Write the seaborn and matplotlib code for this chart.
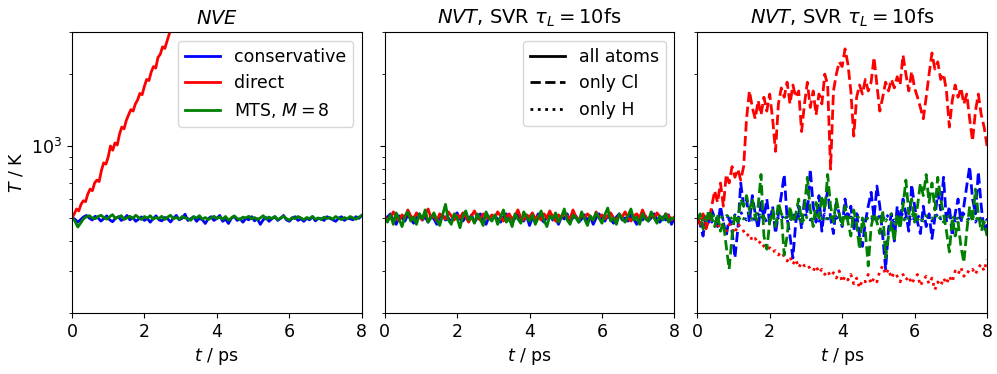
import numpy as np
import pandas as pd
import matplotlib
matplotlib.use("Agg")
import matplotlib.pyplot as plt
import seaborn as sns
from matplotlib.ticker import NullFormatter

plt.rcParams.update({
    "font.size": 12.5,
    "axes.titlesize": 14,
    "axes.labelsize": 12.5,
    "xtick.labelsize": 12.5,
    "ytick.labelsize": 12.5,
    "legend.fontsize": 12.5,
})

# ---------------- data ----------------
time_step = 0.0625  # ps, spacing of red "direct" run samples

# Panel 1 (NVE)
nve_conservative = [502, 494, 480, 492, 505, 512, 499, 490, 508, 500,
      485, 497, 510, 491, 482, 498, 506, 488, 496, 512,
      491, 502, 484, 494, 505, 488, 498, 480, 496, 510,
      491, 486, 502, 496, 481, 498, 512, 491, 498, 518,
      488, 496, 506, 484, 498, 491, 474, 496, 506, 488,
      498, 512, 484, 494, 474, 498, 508, 488, 496, 480,
      498, 491, 506, 486, 496, 470, 491, 502, 484, 496,
      506, 488, 498, 512, 491, 484, 498, 506, 488, 496,
      484, 498, 491, 506, 486, 498, 496, 488, 506, 498,
      491, 484, 498, 506, 488, 498, 496, 491, 506, 498, 512]
nve_direct = [500, 520, 545, 535, 570, 590, 585, 630, 660, 650,
      700, 720, 710, 790, 850, 840, 900, 1000, 960, 1030,
      1010, 1120, 1200, 1180, 1280, 1350, 1420, 1400, 1500, 1560,
      1660, 1640, 1780, 1900, 1880, 2040, 2150, 2120, 2350, 2420,
      2600, 2560, 2750, 2950, 3100, 3300]
nve_mts = [500, 486, 458, 476, 496, 506, 511, 500, 496, 507,
      513, 502, 494, 506, 516, 497, 504, 511, 493, 500,
      508, 497, 513, 502, 492, 507, 499, 511, 494, 502,
      497, 508, 492, 504, 513, 496, 502, 494, 507, 500,
      497, 489, 506, 500, 511, 494, 502, 492, 500, 508,
      497, 504, 494, 507, 489, 500, 510, 497, 492, 504,
      500, 508, 496, 502, 492, 500, 511, 494, 504, 497,
      507, 492, 500, 508, 497, 489, 502, 496, 507, 500,
      492, 502, 497, 507, 494, 500, 492, 504, 497, 502,
      494, 507, 499, 492, 502, 496, 507, 500, 494, 504, 511]

# Panel 2 (NVT, all atoms)
nvt_all_conservative = [495, 505, 520, 490, 470, 510, 500, 485, 515, 495,
      475, 500, 520, 490, 505, 480, 510, 495, 470, 505,
      515, 490, 500, 480, 510, 525, 495, 485, 505, 490,
      515, 480, 500, 520, 495, 470, 505, 490, 510, 495,
      480, 505, 520, 490, 475, 500, 515, 495, 485, 510,
      465, 500, 490, 520, 495, 480, 505, 515, 490, 500,
      470, 505, 495, 520, 485, 500, 510, 480, 495, 515,
      490, 505, 470, 500, 520, 495, 485, 510, 495, 475,
      505, 520, 490, 500, 485, 515, 495, 470, 505, 490,
      510, 485, 500, 520, 495, 480, 505, 490, 515, 470, 500]
nvt_all_direct = [510, 490, 500, 530, 505, 485, 515, 500, 540, 510,
      495, 525, 505, 490, 520, 545, 500, 510, 485, 520,
      505, 495, 530, 510, 490, 515, 500, 525, 505, 480,
      510, 535, 500, 490, 520, 505, 495, 515, 500, 530,
      510, 485, 505, 520, 495, 510, 540, 500, 490, 515,
      505, 525, 495, 510, 490, 520, 500, 535, 505, 485,
      515, 500, 525, 510, 495, 540, 505, 490, 515, 500,
      520, 505, 490, 530, 500, 515, 495, 510, 525, 500,
      490, 515, 505, 530, 500, 485, 510, 520, 500, 540,
      505, 490, 515, 500, 525, 505, 495, 520, 510, 490, 505]
nvt_all_mts = [500, 480, 515, 470, 525, 495, 460, 510, 530, 485,
      505, 470, 520, 495, 540, 480, 500, 525, 490, 465,
      515, 570, 490, 470, 520, 500, 455, 510, 535, 490,
      505, 475, 520, 495, 465, 530, 500, 485, 515, 470,
      505, 540, 480, 500, 460, 520, 495, 475, 530, 505,
      485, 515, 470, 500, 535, 490, 460, 510, 495, 525,
      480, 505, 545, 490, 470, 515, 500, 480, 530, 495,
      465, 510, 490, 525, 500, 475, 515, 550, 485, 500,
      470, 520, 495, 480, 510, 545, 490, 505, 470, 520,
      495, 485, 530, 500, 475, 510, 490, 520, 480, 500, 495]

# Panel 3 (NVT, Cl only / H only)
cl_conservative = [500, 470, 420, 520, 480, 540, 500,
      460, 560, 480, 420, 500, 440,
      340, 450, 700, 560,
      600, 480, 620, 520, 450, 580, 500, 600, 470,
      560, 430, 520, 620, 760, 500, 420, 340,
      480, 560, 450, 600, 520, 800, 560,
      480, 620, 440, 560, 650, 500, 430, 580, 520,
      460, 600, 500, 560, 440, 520, 420, 380,
      480, 560, 640, 500, 680, 560,
      420, 305, 450, 520, 400, 560,
      480, 600, 520, 440, 690, 560, 480,
      430, 560, 460, 520, 410, 500, 640,
      540, 740, 480, 560, 420, 520, 600,
      480, 560, 680, 820, 600, 520,
      780, 560, 440, 470]
cl_direct = [500, 470, 520, 450, 490, 560, 650, 580, 700, 560,
      760, 700, 820, 740, 800, 720, 820, 1300, 1700, 1450,
      1300, 1550, 1350, 1600, 1400, 1650, 1300, 950, 1500, 1750,
      1600, 1850, 1500, 1800, 1600, 1700, 1150, 1500, 1850, 1450,
      1700, 1350, 1650, 1500, 2000, 1800, 800, 1700, 2000, 2250,
      2150, 2550, 2200, 1700, 1100, 1600, 1800, 1650, 1900, 1700,
      1850, 2350, 1800, 1400, 1600, 1850, 1700, 1900, 1750, 1950,
      1800, 2400, 2000, 1700, 2050, 1750, 1600, 1450, 1300, 1600,
      2000, 2450, 2100, 2250, 1900, 2000, 1700, 1200, 1550, 1800,
      1600, 1750, 1500, 1650, 1300, 1050, 1400, 1650, 1350, 1200, 1000]
cl_mts = [490, 520, 450, 480, 540, 500, 460,
      520, 440, 480, 380, 305, 420,
      520, 480, 600, 560,
      620, 540, 600, 500, 560, 760,
      420, 370, 480, 540, 460, 580,
      520, 350, 420, 560, 480, 520,
      600, 480, 560, 740, 540, 460, 580,
      500, 620, 540, 760, 560, 480, 600,
      520, 460, 560, 480, 420, 540, 470,
      370, 500, 440, 315, 460, 520, 480,
      430, 540, 340, 420, 480, 400, 520,
      450, 560, 720, 520, 600, 480, 560,
      700, 620, 760, 580, 700, 540, 740,
      600, 520, 440, 360, 500, 420, 480,
      380, 325, 440, 560, 480, 660,
      520, 440, 480, 420]
h_conservative = [505, 490, 515, 495, 520, 480, 505, 495, 525, 490,
      510, 500, 480, 515, 495, 530, 505, 490, 510, 485,
      500, 520, 495, 510, 480, 505, 525, 495, 500, 515,
      490, 505, 485, 520, 500, 510, 495, 530, 500, 490,
      515, 505, 485, 500, 520, 495, 510, 490, 505, 480,
      500, 515, 495, 505, 485, 520, 500, 490, 510, 495,
      505, 480, 515, 500, 490, 520, 505, 495, 485, 510,
      500, 525, 495, 505, 480, 500, 515, 490, 505, 495,
      510, 485, 500, 520, 495, 505, 490, 515, 500, 485,
      505, 495, 520, 500, 490, 510, 480, 505, 495, 500, 490]
h_direct = [500, 480, 520, 470, 510, 490, 470,
      450, 480, 460, 440, 470, 450,
      430, 470, 460, 440,
      420, 430, 400, 410, 390, 400,
      380, 370, 375, 360, 365, 350, 360, 345,
      330, 345, 320, 335, 310, 325, 315,
      320, 305, 300, 315, 295, 305, 290, 300,
      285, 295, 280, 300, 270, 285, 275,
      290, 265, 280, 255, 275, 270, 290, 265, 280, 270,
      300, 315, 290, 305, 280, 295, 285,
      270, 290, 275, 285, 265, 280, 290, 260, 275, 285, 265, 280,
      250, 270, 260, 280, 265, 285, 270,
      300, 290, 310, 285, 300, 295, 305,
      290, 310, 320, 300, 335]
h_mts = [495, 510, 480, 505, 490, 520, 500, 485, 510, 495,
      505, 520, 490, 500, 480, 510, 495, 505, 525, 490,
      500, 485, 515, 495, 505, 490, 510, 480, 500, 520,
      495, 510, 500, 485, 515, 495, 505, 480, 510, 500,
      490, 515, 500, 495, 510, 485, 500, 520, 495, 505,
      490, 500, 515, 485, 505, 495, 510, 500, 480, 505,
      515, 495, 500, 490, 510, 485, 505, 520, 500, 490,
      505, 480, 510, 495, 515, 500, 490, 505, 485, 510,
      500, 495, 520, 490, 505, 480, 500, 510, 495, 515,
      490, 505, 500, 485, 510, 495, 505, 490, 480, 495, 485]

titles = ["$NVE$", "$NVT$, SVR $\\tau_L = 10$fs", "$NVT$, SVR $\\tau_L = 10$fs"]
method_labels = ["conservative", "direct", "MTS, $M = 8$"]
subset_labels = ["all atoms", "only Cl", "only H"]


def series(values, t_end=8.0, step=None):
    v = np.asarray(values, dtype=float)
    if step is None:
        t = np.linspace(0, t_end, len(v))
    else:
        t = np.arange(len(v)) * step
    return pd.DataFrame({"t": t, "T": v})


fig, axes = plt.subplots(1, 3, figsize=(9.97, 3.74), dpi=100, sharey=True)
fig.subplots_adjust(left=0.0722, right=0.990, top=0.9144, bottom=0.1631, wspace=0.079)

lw = 2.0
# Panel 1
ax = axes[0]
sns.lineplot(data=series(nve_conservative), x="t", y="T", ax=ax, color="blue", lw=lw, label=method_labels[0])
sns.lineplot(data=series(nve_direct, step=time_step), x="t", y="T", ax=ax, color="red", lw=lw, label=method_labels[1])
sns.lineplot(data=series(nve_mts), x="t", y="T", ax=ax, color="green", lw=lw, label=method_labels[2])
ax.legend(loc="upper right")

# Panel 2
ax = axes[1]
sns.lineplot(data=series(nvt_all_conservative), x="t", y="T", ax=ax, color="blue", lw=lw)
sns.lineplot(data=series(nvt_all_direct), x="t", y="T", ax=ax, color="red", lw=lw)
sns.lineplot(data=series(nvt_all_mts), x="t", y="T", ax=ax, color="green", lw=lw)
handles = [plt.Line2D([], [], color="black", lw=lw, ls=s) for s in ["-", "--", ":"]]
ax.legend(handles, subset_labels, loc="upper right")

# Panel 3
ax = axes[2]
sns.lineplot(data=series(cl_conservative), x="t", y="T", ax=ax, color="blue", lw=lw, ls="--")
sns.lineplot(data=series(h_conservative), x="t", y="T", ax=ax, color="blue", lw=lw, ls=":")
sns.lineplot(data=series(cl_direct), x="t", y="T", ax=ax, color="red", lw=lw, ls="--")
sns.lineplot(data=series(h_direct), x="t", y="T", ax=ax, color="red", lw=lw, ls=":")
sns.lineplot(data=series(cl_mts), x="t", y="T", ax=ax, color="green", lw=lw, ls="--")
sns.lineplot(data=series(h_mts), x="t", y="T", ax=ax, color="green", lw=lw, ls=":")

for i, ax in enumerate(axes):
    ax.set_yscale("log")
    ax.set_ylim(200, 3000)
    ax.set_xlim(0, 8)
    ax.set_xticks([0, 2, 4, 6, 8])
    ax.set_xlabel("$t$ / ps")
    ax.set_title(titles[i])
    ax.yaxis.set_minor_formatter(NullFormatter())
    if i == 0:
        ax.set_ylabel("$T$ / K")
    else:
        ax.set_ylabel("")
        ax.tick_params(labelleft=False)

fig.savefig("out.png", dpi=100)
